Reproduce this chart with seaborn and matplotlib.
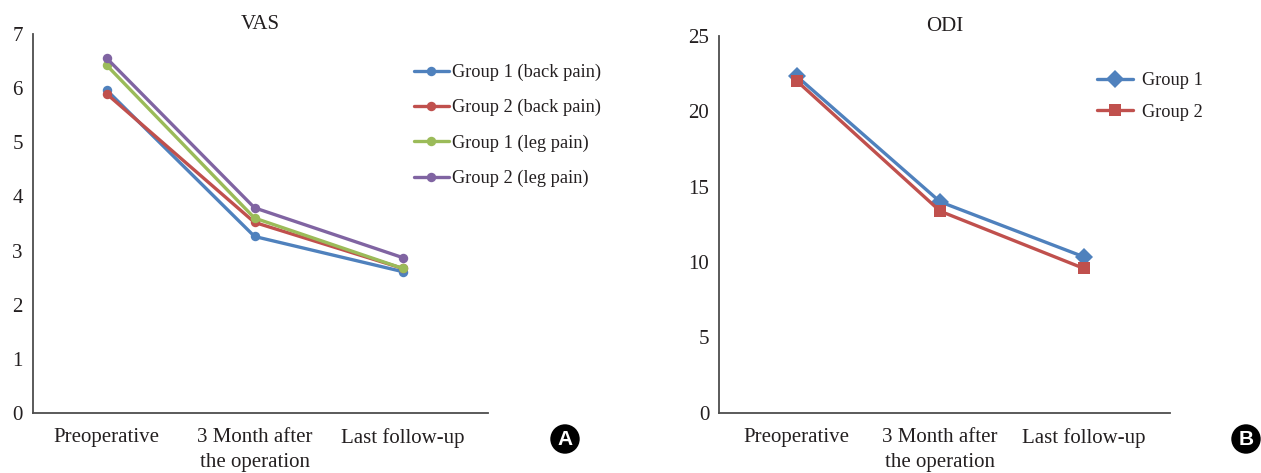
import numpy as np
import pandas as pd
import matplotlib
matplotlib.use('Agg')
import matplotlib.pyplot as plt
import seaborn as sns

# time points on the x axis (both panels)
timepoints = ['Preoperative', '3 Month after\nthe operation', 'Last follow-up']

# VAS panel
vas_groups = ['Group 1 (back pain)', 'Group 2 (back pain)', 'Group 1 (leg pain)', 'Group 2 (leg pain)']
vas_g1_back = [5.97, 3.26, 2.61]
vas_g2_back = [5.90, 3.52, 2.67]
vas_g1_leg = [6.43, 3.60, 2.67]
vas_g2_leg = [6.56, 3.79, 2.87]
vas_ticks = [0, 1, 2, 3, 4, 5, 6, 7]

# ODI panel
odi_groups = ['Group 1', 'Group 2']
odi_g1 = [22.35, 14.0, 10.35]
odi_g2 = [22.04, 13.38, 9.58]
odi_ticks = [0, 5, 10, 15, 20, 25]

blue, red, green, purple = '#4F81BD', '#C0504D', '#9BBB59', '#8064A2'
axis_col = '#4d4d4d'
text_col = '#231f20'

sns.set_style('white')
plt.rcParams['font.family'] = ['Liberation Serif', 'DejaVu Serif']

vas_df = pd.DataFrame({
    'time': timepoints * 4,
    'score': vas_g1_back + vas_g2_back + vas_g1_leg + vas_g2_leg,
    'group': np.repeat(vas_groups, 3),
})
odi_df = pd.DataFrame({
    'time': timepoints * 2,
    'score': odi_g1 + odi_g2,
    'group': np.repeat(odi_groups, 3),
})

fig = plt.figure(figsize=(12.61, 4.73), dpi=100)
ax1 = fig.add_axes([0.0258, 0.1275, 0.3615, 0.800])
ax2 = fig.add_axes([0.5702, 0.1275, 0.3576, 0.796])

sns.lineplot(data=vas_df, x='time', y='score', hue='group', palette=[blue, red, green, purple],
             marker='o', markersize=6.8, markeredgewidth=0, linewidth=2.4, sort=False, ax=ax1)
sns.lineplot(data=odi_df, x='time', y='score', hue='group', style='group',
             palette=[blue, red], markers={'Group 1': 'D', 'Group 2': 's'}, dashes=False,
             markersize=9, markeredgewidth=0, linewidth=2.4, sort=False, ax=ax2)


def style_axes(ax, ticks, title, xlim):
    ax.set_ylim(ticks[0], ticks[-1])
    ax.set_yticks(ticks)
    ax.set_xlim(*xlim)
    ax.set_xlabel('')
    ax.set_ylabel('')
    ax.set_title(title, fontsize=15, pad=4, color=text_col)
    for s in ['top', 'right']:
        ax.spines[s].set_visible(False)
    for s in ['left', 'bottom']:
        ax.spines[s].set_color(axis_col)
        ax.spines[s].set_linewidth(1.3)
    ax.tick_params(axis='both', direction='in', length=6, width=1.0, color=axis_col,
                   labelsize=15, labelcolor=text_col)
    ax.tick_params(axis='x', pad=11)
    ax.tick_params(axis='y', pad=7)
    for lab in ax.get_xticklabels():
        lab.set_linespacing(1.45)
    ax.grid(False)


style_axes(ax1, vas_ticks, 'VAS', (-0.50, 2.58))
style_axes(ax2, odi_ticks, 'ODI', (-0.54, 2.60))


def place_legend(ax, x, y, spacing, textpad):
    old = ax.get_legend()
    handles = old.legend_handles
    labels = [t.get_text() for t in old.get_texts()]
    old.remove()
    ax.legend(handles, labels, loc='upper left', bbox_to_anchor=(x, y),
              bbox_transform=fig.transFigure, frameon=False, fontsize=13.2,
              handlelength=1.95, handletextpad=textpad, labelspacing=spacing,
              borderpad=0, borderaxespad=0, labelcolor=text_col)


place_legend(ax1, 0.328, 0.865, 0.98, 0.15)
place_legend(ax2, 0.870, 0.847, 0.78, 0.5)

# panel badges
for x, letter in [(565, 'A'), (1246, 'B')]:
    fig.text(x / 1261, 1 - 439 / 473, letter, ha='center', va='center', color='white',
             fontsize=15, fontweight='bold', family='Liberation Sans',
             bbox=dict(boxstyle='circle,pad=0.25', fc='black', ec='none'))

fig.savefig('out.png', dpi=100)
